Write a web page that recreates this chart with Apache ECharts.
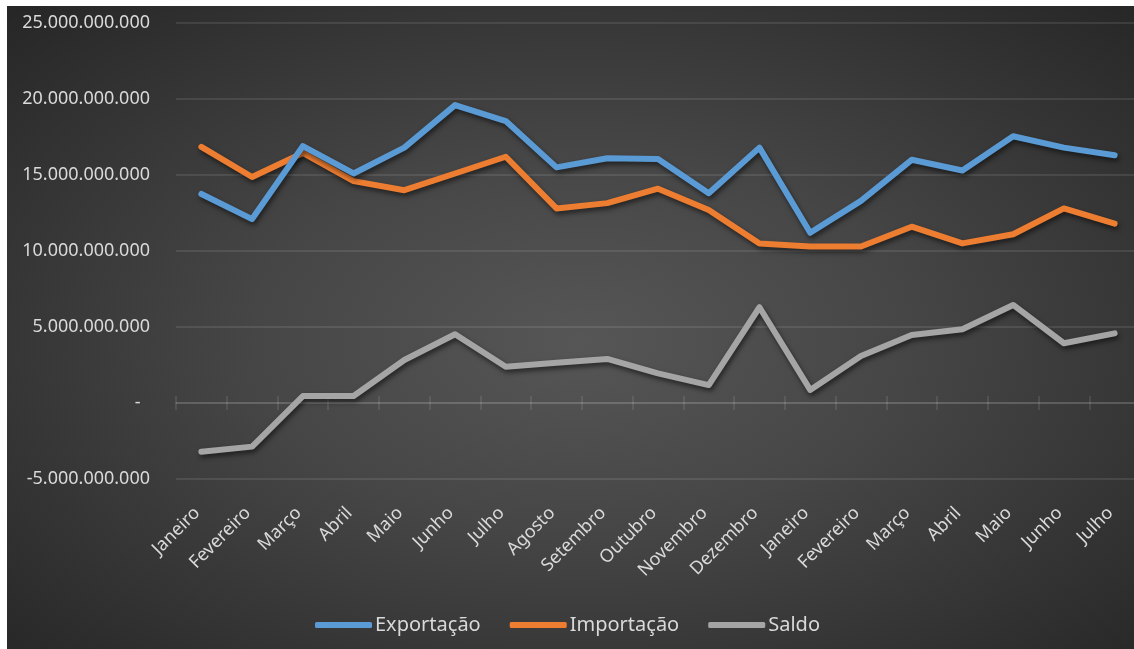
<!DOCTYPE html>
<html>
<head>
<meta charset="utf-8">
<script src="https://cdn.jsdelivr.net/npm/echarts@6/dist/echarts.min.js"></script>
<style>
  html, body { margin:0; padding:0; background:#ffffff; overflow:hidden; width:1134px; height:649px; }
  #chart { position:absolute; left:7px; top:6px; width:1145px; height:643px;
    background: radial-gradient(ellipse at 50% 52%, #565656 0%, #464646 40%, #262626 100%); }
</style>
</head>
<body>
<div id="chart"></div>
<script>
// Months (two years, Jan..Dez then Jan..Jul)
const categories = ['Janeiro','Fevereiro','Março','Abril','Maio','Junho','Julho','Agosto','Setembro','Outubro','Novembro','Dezembro','Janeiro','Fevereiro','Março','Abril','Maio','Junho','Julho'];
// Values in billions
const exportacao = [13.75, 12.1, 16.9, 15.1, 16.8, 19.6, 18.55, 15.5, 16.1, 16.05, 13.8, 16.8, 11.2, 13.3, 16.0, 15.3, 17.55, 16.8, 16.3];
const importacao = [16.85, 14.87, 16.45, 14.6, 14.0, 15.1, 16.2, 12.8, 13.15, 14.1, 12.7, 10.5, 10.3, 10.3, 11.6, 10.5, 11.1, 12.8, 11.8];
const saldo = [-3.2, -2.87, 0.46, 0.46, 2.83, 4.52, 2.39, 2.65, 2.9, 1.95, 1.18, 6.3, 0.86, 3.09, 4.47, 4.85, 6.45, 3.93, 4.58];
const seriesNames = ['Exportação','Importação','Saldo'];
const yMin = -5000000000, yMax = 25000000000, yStep = 5000000000;

const SCALE = 1000000000;
const FONT = 'Noto Sans';
const LABEL = '#d9d9d9';
const GRID = 'rgba(255,255,255,0.13)';

function fmt(v) {
  if (v === 0) return '-  ';
  const neg = v < 0;
  let s = String(Math.abs(Math.round(v)));
  let out = '';
  while (s.length > 3) { out = '.' + s.slice(-3) + out; s = s.slice(0, -3); }
  out = s + out;
  return (neg ? '-' : '') + out;
}

const chart = echarts.init(document.getElementById('chart'), null, {renderer:'canvas'});
const lineStyleBase = { width: 6, cap: 'round', join: 'round', shadowColor: 'rgba(0,0,0,0.55)', shadowBlur: 5, shadowOffsetX: 1.5, shadowOffsetY: 3 };
const colors = ['#5B9BD5', '#ED7D31', '#A5A5A5'];
const dataSets = [exportacao, importacao, saldo];
const gridRect = { left: 169, right: 12, top: 17, bottom: 170, containLabel: false };

chart.setOption({
  backgroundColor: 'transparent',
  animation: false,
  color: colors,
  textStyle: { fontFamily: FONT },
  grid: [Object.assign({}, gridRect), Object.assign({}, gridRect)],
  legend: {
    left: 303, top: 604,
    itemWidth: 57, itemHeight: 6, itemGap: 29,
    icon: 'roundRect',
    textStyle: { color: LABEL, fontSize: 20, fontFamily: FONT, padding: [0, 0, 0, -2] },
    data: seriesNames
  },
  xAxis: [
    {
      gridIndex: 0, type: 'category', data: categories, position: 'bottom', boundaryGap: true,
      axisLine: { show: false, onZero: false }, axisTick: { show: false },
      axisLabel: { rotate: 45, margin: 27, color: LABEL, fontSize: 18, fontFamily: FONT, interval: 0, padding: [0, 6, 0, 0] },
      splitLine: { show: false }
    },
    {
      gridIndex: 0, type: 'category', data: categories, position: 'bottom', boundaryGap: true,
      axisLine: { show: true, onZero: true, lineStyle: { color: GRID, width: 1.5 } },
      axisTick: { show: true, length: 7, interval: 0, lineStyle: { color: GRID, width: 1.5 } },
      axisLabel: { show: false }, splitLine: { show: false }
    },
    {
      gridIndex: 1, type: 'category', data: categories, position: 'top', boundaryGap: true,
      axisLine: { show: false, onZero: true },
      axisTick: { show: true, length: 7, interval: 0, lineStyle: { color: GRID, width: 1.5 } },
      axisLabel: { show: false }, splitLine: { show: false }
    }
  ],
  yAxis: [
    {
      gridIndex: 0, type: 'value', min: yMin, max: yMax, interval: yStep,
      axisLine: { show: false }, axisTick: { show: false },
      axisLabel: { color: LABEL, fontSize: 18, fontFamily: FONT, margin: 26, formatter: fmt },
      splitLine: { show: true, lineStyle: { color: GRID, width: 1.5 } }
    },
    {
      gridIndex: 1, type: 'value', min: yMin, max: yMax, interval: yStep,
      axisLine: { show: false }, axisTick: { show: false },
      axisLabel: { show: false }, splitLine: { show: false }
    }
  ],
  series: dataSets.map((arr, i) => ({
    name: seriesNames[i], type: 'line', xAxisIndex: 0, yAxisIndex: 0,
    data: arr.map(v => v * SCALE),
    symbol: 'none', smooth: false,
    lineStyle: Object.assign({ color: colors[i] }, lineStyleBase),
    z: 3 - i
  }))
});
</script>
</body>
</html>
